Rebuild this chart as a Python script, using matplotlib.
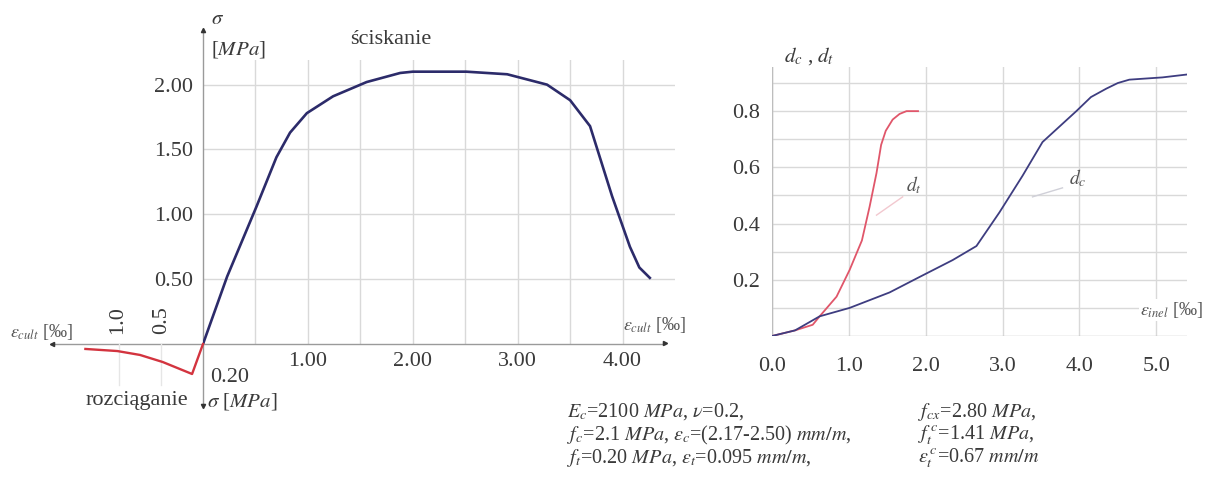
import matplotlib as mpl
mpl.use('Agg')
import matplotlib.pyplot as plt
import numpy as np

plt.rcParams['font.family'] = ['Liberation Serif', 'DejaVu Serif']
plt.rcParams['mathtext.fontset'] = 'stix'

# --- data ---
# compression branch: strain [permille], stress [MPa]
comp_strain = [0.0, 0.23, 0.51, 0.70, 0.83, 0.99, 1.24, 1.56, 1.88, 2.00, 2.51, 2.90, 3.28, 3.50, 3.69, 3.90, 4.07, 4.16, 4.26]
comp_stress = [0.0, 0.52, 1.06, 1.44, 1.63, 1.78, 1.91, 2.02, 2.09, 2.10, 2.10, 2.08, 2.00, 1.88, 1.68, 1.14, 0.75, 0.59, 0.51]
# tension branch (drawn to the left / down)
ten_strain = [0.0, 0.13, 0.48, 0.75, 1.02, 1.40]
ten_stress = [0.0, -0.20, -0.12, -0.073, -0.047, -0.033]
# damage parameters vs inelastic strain
dt_strain = [0.0, 0.30, 0.53, 0.62, 0.84, 1.01, 1.17, 1.27, 1.36, 1.42, 1.48, 1.57, 1.66, 1.75, 1.90]
dt_value = [0.0, 0.02, 0.04, 0.07, 0.14, 0.235, 0.34, 0.46, 0.58, 0.68, 0.73, 0.77, 0.79, 0.80, 0.80]
dc_strain = [0.0, 0.30, 0.62, 1.01, 1.53, 1.92, 2.35, 2.66, 2.96, 3.26, 3.52, 3.96, 4.15, 4.35, 4.50, 4.65, 5.08, 5.39]
dc_value = [0.0, 0.02, 0.07, 0.10, 0.155, 0.21, 0.27, 0.32, 0.44, 0.57, 0.69, 0.80, 0.85, 0.88, 0.90, 0.912, 0.92, 0.93]

comp_xt = [1, 2, 3, 4]
comp_xl = ['1.00', '2.00', '3.00', '4.00']
comp_yt = [0.5, 1.0, 1.5, 2.0]
comp_yl = ['0.50', '1.00', '1.50', '2.00']
dmg_xt = [0, 1, 2, 3, 4, 5]
dmg_xl = ['0.0', '1.0', '2.0', '3.0', '4.0', '5.0']
dmg_yt = [0.2, 0.4, 0.6, 0.8]
dmg_yl = ['0.2', '0.4', '0.6', '0.8']

W, H = 1205, 479
fig = plt.figure(figsize=(W / 100, H / 100), dpi=100)

def rect(x0, y0, x1, y1):
    # pixel box (top-left origin) -> figure fraction
    return [x0 / W, 1 - y1 / H, (x1 - x0) / W, (y1 - y0) / H]

def ftext(x, y, s, **kw):
    fig.text(x / W, 1 - y / H, s, **kw)

txt = '#3a3a3a'
grid_c = '#d9d9d9'
axis_c = '#9a9a9a'
tick_fs = 16

# ---------------- left chart: sigma-epsilon ----------------
ax = fig.add_axes(rect(203, 60, 675, 344))
ax.set_xlim(0, 4.5)
ax.set_ylim(0, 2.19)
for s in ax.spines.values():
    s.set_visible(False)
ax.set_xticks(comp_xt)
ax.set_xticklabels(comp_xl)
ax.set_yticks(comp_yt)
ax.set_yticklabels(comp_yl)
ax.set_xticks([0.5, 1.5, 2.5, 3.5], minor=True)
ax.tick_params(which='both', length=0, colors=txt, labelsize=tick_fs)
ax.tick_params(axis='x', pad=6)
ax.tick_params(axis='y', pad=7)
ax.grid(which='both', axis='x', color=grid_c, lw=1)
ax.grid(which='major', axis='y', color=grid_c, lw=1)
ax.set_facecolor('none')

ax.plot(comp_strain, comp_stress, color='#2c2b6a', lw=1.9, solid_joinstyle='round', zorder=3)

# axes lines with small arrow heads
ax.plot([0, 0], [-0.48, 2.42], color=axis_c, lw=1, clip_on=False)
ax.plot([-1.45, 4.4], [0, 0], color=axis_c, lw=1, clip_on=False)
ax.plot([0], [2.42], marker='^', ms=3, color='#333', clip_on=False)
ax.plot([0], [-0.48], marker='v', ms=3, color='#333', clip_on=False)
ax.plot([4.4], [0.01], marker='>', ms=3, color='#333', clip_on=False)

# tension part (own scale)
axt = fig.add_axes(rect(77, 344, 203, 389))
axt.set_xlim(1.5, 0)
axt.set_ylim(-0.3, 0)
axt.axis('off')
for gx in [0.5, 1.0]:
    axt.plot([gx, gx], [0, -0.27], color='#e6e6e6', lw=1, clip_on=False)
axt.plot(ten_strain, ten_stress, color='#d3343f', lw=1.7, clip_on=False, zorder=3)
axt.plot([1.8], [0], marker='<', ms=3, color='#333', clip_on=False)

ftext(218, 20, r'$\sigma$', fontsize=15, color=txt, ha='center', va='center')
ftext(211, 50, r'[$MPa$]', fontsize=15, color=txt, ha='left', va='center')
ftext(391, 40, 'ściskanie', fontsize=16, color=txt, ha='center', va='center')
ftext(623, 325, r'$\varepsilon_{cult}$ [‰]', fontsize=13, color='#555', ha='left', va='center')
ftext(10, 332, r'$\varepsilon_{cult}$ [‰]', fontsize=13, color='#555', ha='left', va='center')
ftext(118, 320, '1.0', fontsize=tick_fs, color=txt, ha='center', va='center', rotation=90)
ftext(162, 320, '0.5', fontsize=tick_fs, color=txt, ha='center', va='center', rotation=90)
ftext(210, 377, '0.20', fontsize=tick_fs, color=txt, ha='left', va='center')
ftext(188, 401, 'rozciąganie', fontsize=16, color=txt, ha='right', va='center')
ftext(207, 401, r'$\sigma$ [$MPa$]', fontsize=15, color=txt, ha='left', va='center')

# ---------------- right chart: damage ----------------
ax2 = fig.add_axes(rect(772, 67, 1187, 336))
ax2.set_xlim(0, 5.4)
ax2.set_ylim(0, 0.957)
for s in ax2.spines.values():
    s.set_visible(False)
ax2.set_xticks(dmg_xt)
ax2.set_xticklabels(dmg_xl)
ax2.set_yticks(dmg_yt)
ax2.set_yticklabels(dmg_yl)
ax2.set_yticks([0.1, 0.3, 0.5, 0.7, 0.9], minor=True)
ax2.tick_params(which='both', length=0, colors=txt, labelsize=tick_fs)
ax2.tick_params(axis='x', pad=15)
ax2.tick_params(axis='y', pad=9)
ax2.grid(which='major', axis='x', color=grid_c, lw=1)
ax2.grid(which='both', axis='y', color=grid_c, lw=1)
ax2.axhline(0, color='#bdbdbd', lw=1)
ax2.axvline(0, color='#bdbdbd', lw=1)

ax2.plot(dt_strain, dt_value, color='#e0566a', lw=1.3, zorder=3)
ax2.plot(dc_strain, dc_value, color='#3e3d80', lw=1.3, zorder=3)

# curve labels with leader lines
ax2.plot([1.36, 1.70], [0.43, 0.495], color='#f2c8cf', lw=1)
ax2.text(1.75, 0.535, r'$d_t$', fontsize=14, color='#555', ha='left', va='center')
ax2.plot([3.39, 3.78], [0.495, 0.527], color='#d0d0d8', lw=1)
ax2.text(3.87, 0.56, r'$d_c$', fontsize=14, color='#555', ha='left', va='center')

ftext(809, 56, r'$d_c$ , $d_t$', fontsize=15, color=txt, ha='center', va='center')
ftext(1203, 310, r'$\varepsilon_{inel}$ [‰]', fontsize=13, color='#555', ha='right', va='center',
      bbox=dict(facecolor='white', edgecolor='none', pad=1))

# ---------------- material parameters ----------------
par_left = [r'$E_c$=2100 $MPa$, $\nu$=0.2,',
            r'$f_c$=2.1 $MPa$, $\varepsilon_c$=(2.17-2.50) $mm/m$,',
            r'$f_t$=0.20 $MPa$, $\varepsilon_t$=0.095 $mm/m$,']
par_right = [r'$f_{cx}$=2.80 $MPa$,',
             r'$f_t^{\,c}$=1.41 $MPa$,',
             r'$\varepsilon_t^{\,c}$=0.67 $mm/m$']
for i, (a, b) in enumerate(zip(par_left, par_right)):
    yy = 412 + 23 * i
    ftext(567, yy, a, fontsize=14.5, color=txt, ha='left', va='center')
    ftext(918, yy, b, fontsize=14.5, color=txt, ha='left', va='center')

plt.savefig('out.png', dpi=100)
